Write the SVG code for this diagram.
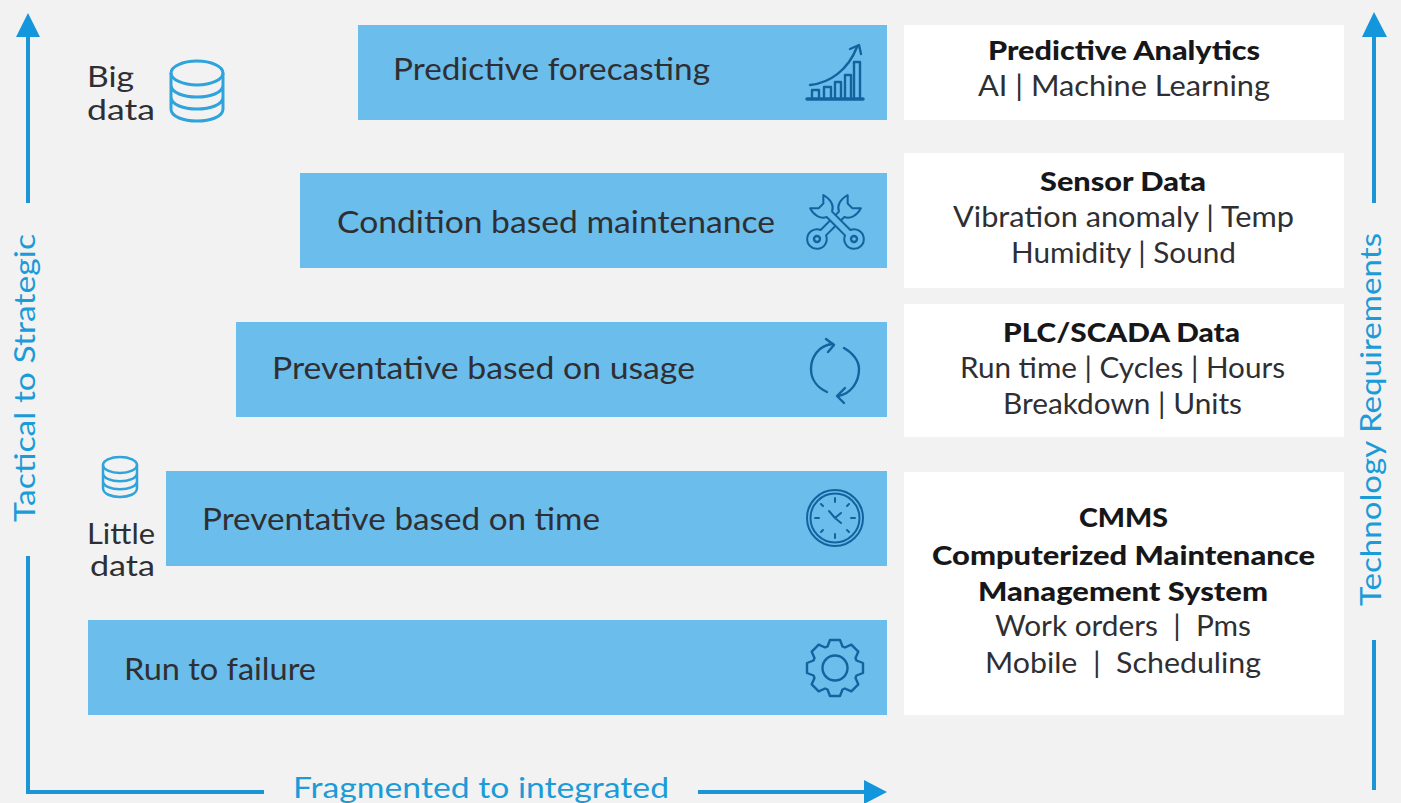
<svg xmlns="http://www.w3.org/2000/svg" width="1401" height="803" viewBox="0 0 1401 803">
<style>
text{font-family:"Lato","Liberation Sans",sans-serif}
.bar{fill:#6bbdec}
.card{fill:#fff}
.lbl{font-size:31px;fill:#2f2f33}
.side{font-size:29px;fill:#2f2f33}
.h{font-size:27px;font-weight:900;fill:#17171a}
.b{font-size:29px;fill:#2f2f33}
.ax{font-size:29px;fill:#1b9bd8}
.axl{stroke:#1b95d6;stroke-width:4;fill:none}
.ah{fill:#1496dc}
.ic{fill:none;stroke:#14639f;stroke-width:2.4;stroke-linecap:round;stroke-linejoin:round}
.db{fill:none;stroke:#2ea3dc;stroke-width:3}
</style>
<defs>
<path id="wrench" d="M-4.500 -10.500V-41C-11 -44 -14 -52 -11 -62L-4 -55L4 -55L11 -62C14 -52 11 -44 4.500 -41V-10.500A11.500 11.500 0 1 1 -4.500 -10.500Z"/>
</defs>
<rect width="1401" height="803" fill="#f2f2f2"/>
<g id="connectors">
<path class="axl" d="M28 203V34M28 556V792H264M698 792H866M1374 203V34M1374 640V790"/>
<path class="ah" d="M28 13L40 37H16ZM887 792L864 780V804ZM1374 12L1387 37H1362Z"/>
</g>
<g id="axis-labels">
<text class="ax" x="293" y="798" textLength="376" lengthAdjust="spacingAndGlyphs">Fragmented to integrated</text>
<text class="ax" transform="translate(35 522) rotate(-90)" textLength="288" lengthAdjust="spacingAndGlyphs">Tactical to Strategic</text>
<text class="ax" transform="translate(1381 606) rotate(-90)" textLength="373" lengthAdjust="spacingAndGlyphs">Technology Requirements</text>
</g>
<g id="big-data">
<text class="side" x="87" y="87" textLength="47" lengthAdjust="spacingAndGlyphs">Big</text>
<text class="side" x="87" y="120" textLength="68" lengthAdjust="spacingAndGlyphs">data</text>
<g class="db"><ellipse cx="197" cy="73" rx="26" ry="12"/><path d="M171 73V109C171 125 223 125 223 109V73M171 85C171 101 223 101 223 85M171 97C171 113 223 113 223 97"/></g>
</g>
<g id="little-data">
<text class="side" x="87" y="544" textLength="68" lengthAdjust="spacingAndGlyphs">Little</text>
<text class="side" x="90" y="576" textLength="65" lengthAdjust="spacingAndGlyphs">data</text>
<g class="db" style="stroke-width:2.5"><ellipse cx="120" cy="465" rx="17" ry="8"/><path d="M103 465V488C103 500 137 500 137 488V465M103 473C103 484 137 484 137 473M103 481C103 492 137 492 137 481"/></g>
</g>
<g id="predictive">
<rect class="bar" x="358" y="25" width="529" height="95"/>
<text class="lbl" x="393" y="80" textLength="317" lengthAdjust="spacingAndGlyphs">Predictive forecasting</text>
<g class="ic"><path d="M807 99H863" style="stroke-width:3.500"/><path d="M812 97V90H819V97M824 97V87H831V97M835 97V82H841V97M845 97V75H851V97M854 97V62H860V97M810 85C830 83 848 70 857 47"/><path d="M850 49L859 45L861 54"/></g>
</g>
<g id="condition">
<rect class="bar" x="300" y="173" width="587" height="95"/>
<text class="lbl" x="337" y="233" textLength="438" lengthAdjust="spacingAndGlyphs">Condition based maintenance</text>
<g class="ic">
<use href="#wrench" transform="translate(817 239) rotate(45) scale(.85)"/>
<use href="#wrench" transform="translate(854 239) rotate(-45) scale(.85)" style="fill:#6bbdec"/>
<circle cx="817" cy="239" r="3"/><circle cx="854" cy="239" r="3"/></g>
</g>
<g id="usage">
<rect class="bar" x="236" y="322" width="651" height="95"/>
<text class="lbl" x="272" y="379" textLength="423" lengthAdjust="spacingAndGlyphs">Preventative based on usage</text>
<g class="ic"><path d="M833 344C818 345 811 358 811 369C811 380 818 388 827 392"/><path d="M826 339L834 345L828 352"/><path d="M844 348C853 353 859 361 859 369C859 382 851 394 838 396"/><path d="M845 388L837 396L844 403"/></g>
</g>
<g id="time">
<rect class="bar" x="166" y="471" width="721" height="95"/>
<text class="lbl" x="202" y="530" textLength="398" lengthAdjust="spacingAndGlyphs">Preventative based on time</text>
<g class="ic" style="stroke-width:2"><circle cx="835" cy="518" r="28"/><circle cx="835" cy="518" r="24.500"/><path d="M829 511L835 518M841 513L835 518L841 523M835 498V502M835 534V538M815 518H819M851 518H855M821 504L823 506M849 504L847 506M821 532L823 530M849 532L847 530"/></g>
</g>
<g id="failure">
<rect class="bar" x="88" y="620" width="799" height="95"/>
<text class="lbl" x="124" y="680" textLength="192" lengthAdjust="spacingAndGlyphs">Run to failure</text>
<g class="ic" transform="translate(835 668)"><circle r="12.500"/><path d="M-7.500 -21.500L-5 -28H5L7.500 -21.500L9.900 -20.500L16.300 -23.300L23.300 -16.300L20.500 -9.900L21.500 -7.500L28 -5V5L21.500 7.500L20.500 9.900L23.300 16.300L16.300 23.300L9.900 20.500L7.500 21.500L5 28H-5L-7.500 21.500L-9.900 20.500L-16.300 23.300L-23.300 16.300L-20.500 9.900L-21.500 7.500L-28 5V-5L-21.500 -7.500L-20.500 -9.900L-23.300 -16.300L-16.300 -23.300L-9.900 -20.500Z"/></g>
</g>
<g id="predictive-analytics">
<rect class="card" x="904" y="25" width="440" height="95"/>
<text class="h" x="988" y="60" textLength="272" lengthAdjust="spacingAndGlyphs">Predictive Analytics</text>
<text class="b" x="978" y="96" textLength="292" lengthAdjust="spacingAndGlyphs">AI | Machine Learning</text>
</g>
<g id="sensor-data">
<rect class="card" x="904" y="153" width="440" height="135"/>
<text class="h" x="1040" y="191" textLength="166" lengthAdjust="spacingAndGlyphs">Sensor Data</text>
<text class="b" x="953" y="227" textLength="341" lengthAdjust="spacingAndGlyphs">Vibration anomaly | Temp</text>
<text class="b" x="1011" y="263" textLength="225" lengthAdjust="spacingAndGlyphs">Humidity | Sound</text>
</g>
<g id="plc-scada">
<rect class="card" x="904" y="304" width="440" height="133"/>
<text class="h" x="1003" y="342" textLength="237" lengthAdjust="spacingAndGlyphs">PLC/SCADA Data</text>
<text class="b" x="960" y="378" textLength="325" lengthAdjust="spacingAndGlyphs">Run time | Cycles | Hours</text>
<text class="b" x="1003" y="414" textLength="239" lengthAdjust="spacingAndGlyphs">Breakdown | Units</text>
</g>
<g id="cmms">
<rect class="card" x="904" y="472" width="440" height="243"/>
<text class="h" x="1079" y="527" textLength="89" lengthAdjust="spacingAndGlyphs">CMMS</text>
<text class="h" x="932" y="565" textLength="383" lengthAdjust="spacingAndGlyphs">Computerized Maintenance</text>
<text class="h" x="978" y="601" textLength="290" lengthAdjust="spacingAndGlyphs">Management System</text>
<text class="b" x="995" y="636" textLength="256" lengthAdjust="spacingAndGlyphs" xml:space="preserve">Work orders  |  Pms</text>
<text class="b" x="985" y="673" textLength="276" lengthAdjust="spacingAndGlyphs" xml:space="preserve">Mobile  |  Scheduling</text>
</g>
</svg>
